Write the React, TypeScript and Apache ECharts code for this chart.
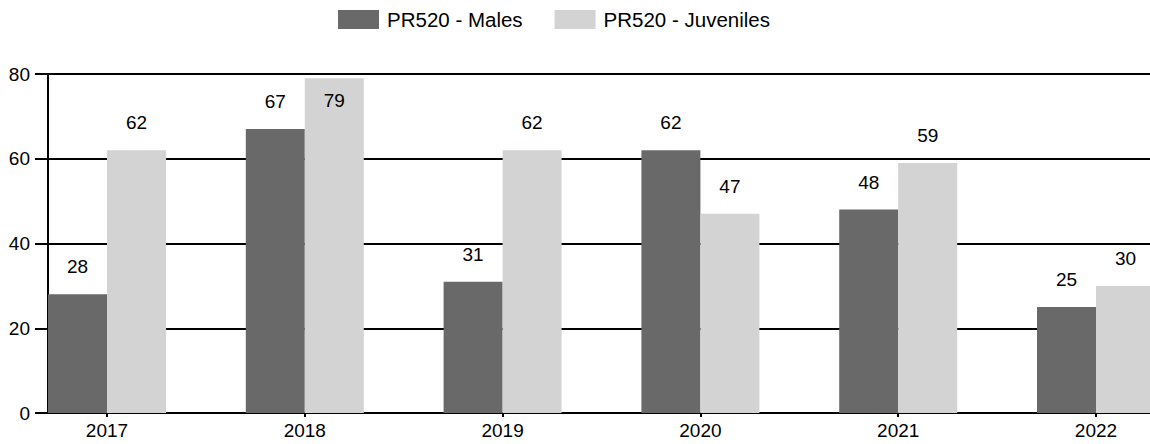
import React, { useEffect, useRef } from "react";
import * as echarts from "echarts";

const years = ["2017", "2018", "2019", "2020", "2021", "2022"];
const males = [28, 67, 31, 62, 48, 25];
const juveniles = [62, 79, 62, 47, 59, 30];
const yTicks = [0, 20, 40, 60, 80];

export default function App() {
  const ref = useRef<HTMLDivElement>(null);
  useEffect(() => {
    const chart = echarts.init(ref.current!, null, { renderer: "svg" });
    const font = "'Liberation Sans', Arial, sans-serif";
    const idx = years.map((_, i) => i);
    const labelBase = {
      show: true,
      position: "top",
      distance: 18,
      color: "#000",
      fontSize: 19,
      fontFamily: font,
      formatter: (p: any) => String(p.value[1]),
    };
    chart.setOption({
      animation: false,
      textStyle: { fontFamily: font },
      legend: {
        top: 4,
        left: 333,
        itemWidth: 41,
        itemHeight: 19,
        itemGap: 32,
        icon: "rect",
        textStyle: { fontSize: 20.5, color: "#000", fontFamily: font, padding: [0, 0, 0, 3] },
        data: ["PR520 - Males", "PR520 - Juveniles"],
      },
      grid: { left: 48, right: 0, top: 74, bottom: 31, containLabel: false },
      xAxis: {
        type: "value",
        min: -0.2983,
        max: 5.273,
        splitLine: { show: false },
        axisLine: { show: true, onZero: false, lineStyle: { color: "#000", width: 2 } },
        axisTick: { show: true, length: 4, customValues: idx, lineStyle: { color: "#000", width: 2 } },
        axisLabel: {
          customValues: idx,
          formatter: (v: number) => years[Math.round(v)] ?? "",
          fontSize: 19,
          color: "#000",
          margin: 8,
          fontFamily: font,
        },
      },
      yAxis: {
        type: "value",
        min: yTicks[0],
        max: yTicks[yTicks.length - 1],
        interval: 20,
        axisLine: { show: true, onZero: false, lineStyle: { color: "#000", width: 2 } },
        axisTick: { show: true, length: 13, lineStyle: { color: "#000", width: 2 } },
        splitLine: { show: true, lineStyle: { color: "#000", width: 2 } },
        axisLabel: { fontSize: 19, color: "#000", margin: 18, fontFamily: font },
      },
      series: [
        {
          name: "PR520 - Males",
          type: "bar",
          barWidth: 59,
          barGap: "0%",
          itemStyle: { color: "#696969" },
          label: labelBase,
          data: males.map((v, i) => [i, v]),
        },
        {
          name: "PR520 - Juveniles",
          type: "bar",
          barWidth: 59,
          barGap: "0%",
          itemStyle: { color: "#d3d3d3" },
          label: labelBase,
          data: juveniles.map((v, i) =>
            v >= 75
              ? { value: [i, v], label: { position: "insideTop", distance: 13 } }
              : [i, v]
          ),
        },
      ],
    });
    return () => chart.dispose();
  }, []);
  return <div ref={ref} style={{ width: 1150, height: 444, position: "absolute", left: 0, top: 0 }} />;
}
